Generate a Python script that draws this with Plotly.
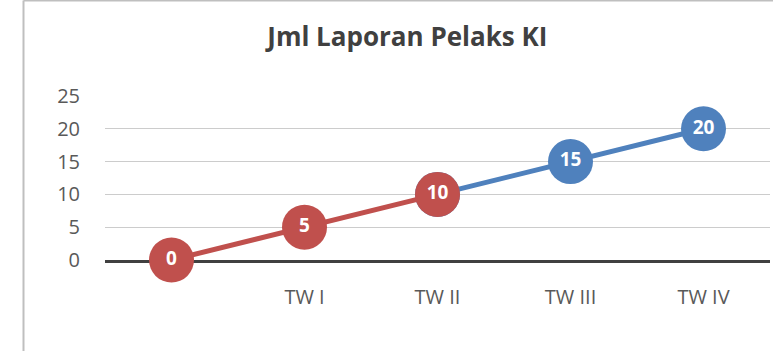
import plotly.graph_objects as go

# Quarter labels (first slot is the unlabeled starting point)
categories = ["", "TW I", "TW II", "TW III", "TW IV"]
red_values = [0, 5, 10, None, None]
blue_values = [None, None, 10, 15, 20]
y_ticks = [0, 5, 10, 15, 20, 25]

RED = "#C0504D"
BLUE = "#4F81BD"
FONT = "Open Sans"

x_pos = list(range(len(categories)))

def labels(vals):
    return [("" if v is None else str(v)) for v in vals]

fig = go.Figure()

# Blue segment drawn first so the red marker at TW II sits on top
fig.add_trace(go.Scatter(
    x=x_pos, y=blue_values, mode="lines+markers+text",
    line=dict(color=BLUE, width=5),
    marker=dict(color=BLUE, size=45, line=dict(width=0)),
    text=labels(blue_values), textposition="middle center",
    textfont=dict(family=FONT, size=19, color="white", weight="bold"),
    cliponaxis=False, hoverinfo="skip", connectgaps=False,
))
fig.add_trace(go.Scatter(
    x=x_pos, y=red_values, mode="lines+markers+text",
    line=dict(color=RED, width=5),
    marker=dict(color=RED, size=45, line=dict(width=0)),
    text=labels(red_values), textposition="middle center",
    textfont=dict(family=FONT, size=19, color="white", weight="bold"),
    cliponaxis=False, hoverinfo="skip", connectgaps=False,
))

W, H = 773, 351
L, R, T, B = 105, 3, 96, 91

fig.update_layout(
    width=W, height=H,
    margin=dict(l=L, r=R, t=T, b=B),
    paper_bgcolor="white", plot_bgcolor="white",
    showlegend=False,
    title=dict(
        text="<b>Jml Laporan Pelaks KI</b>",
        x=0.527, xanchor="center", y=1 - 37 / H, yanchor="middle",
        font=dict(family=FONT, size=26, color="#404040"),
    ),
    xaxis=dict(
        range=[-0.5, 4.5], tickvals=x_pos, ticktext=categories,
        showgrid=False, zeroline=False,
        showline=True, linecolor="#404040", linewidth=3,
        layer="below traces",
        ticks="", ticklabelstandoff=17,
        tickfont=dict(family=FONT, size=20, color="#595959"),
        fixedrange=True,
    ),
    yaxis=dict(
        range=[0, 25], tickvals=y_ticks,
        showgrid=True, gridcolor="#CCCCCC", gridwidth=1,
        zeroline=False, showline=False, ticks="",
        layer="below traces",
        ticklabelstandoff=24,
        tickfont=dict(family=FONT, size=20, color="#595959"),
        fixedrange=True,
    ),
)

# Chart frame: top and left borders
pw = W - L - R
ph = H - T - B
x0 = (23.5 - L) / pw
x1 = (W + 5 - L) / pw
y_top = (H - 0.5 - B) / ph
y_bot = (-5 - B) / ph
fig.add_shape(type="line", xref="paper", yref="paper",
              x0=x0, x1=x0, y0=y_bot, y1=y_top,
              line=dict(color="#BFBFBF", width=2), layer="below")
fig.add_shape(type="line", xref="paper", yref="paper",
              x0=x0, x1=x1, y0=y_top, y1=y_top,
              line=dict(color="#BFBFBF", width=2), layer="below")

fig.write_html("out.html", config={"displayModeBar": False})
